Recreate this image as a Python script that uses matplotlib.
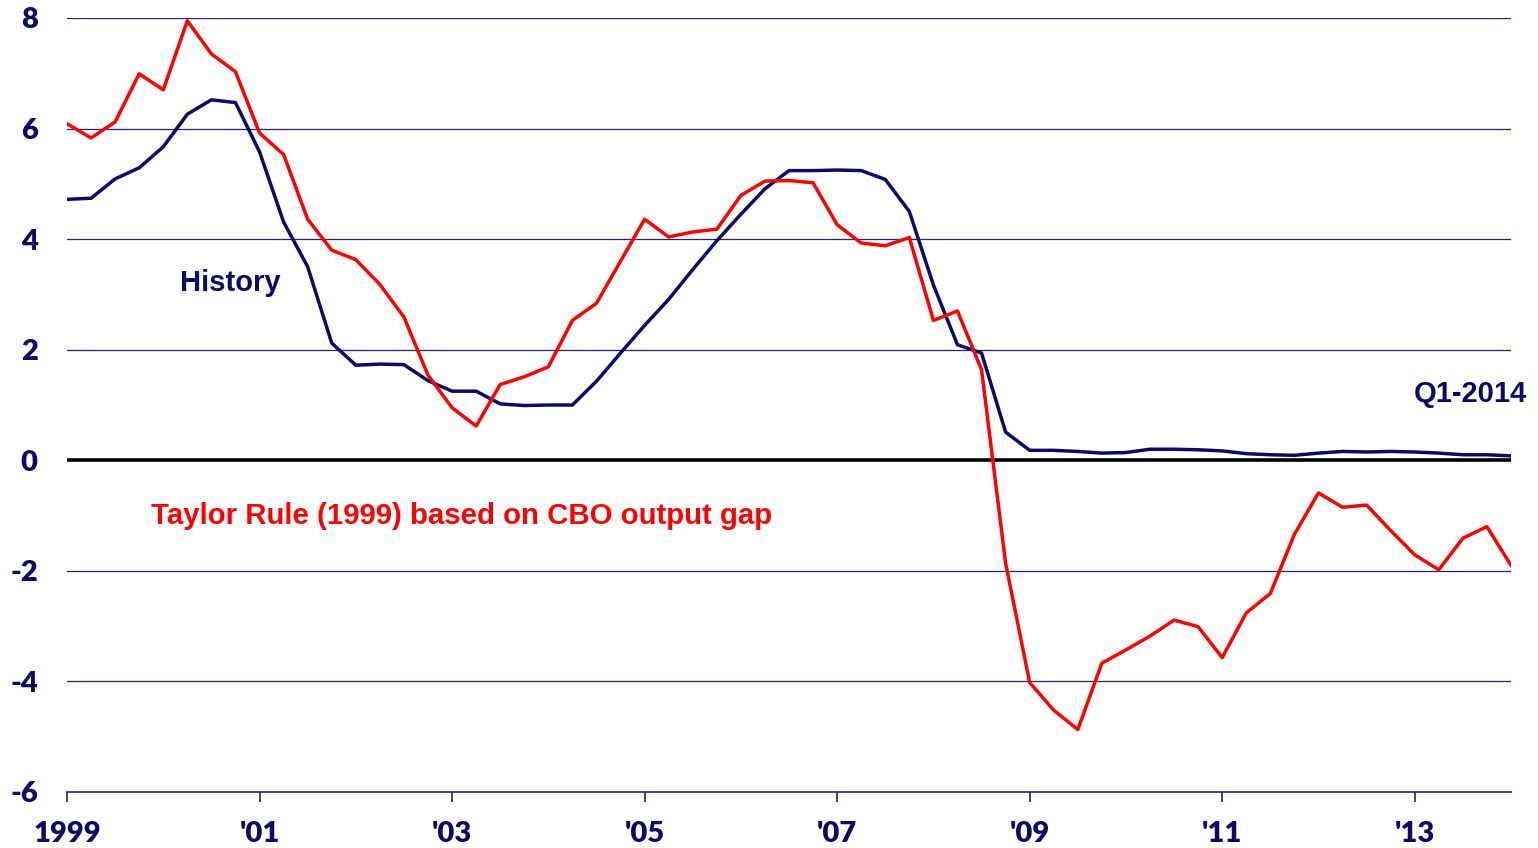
import numpy as np
import matplotlib
matplotlib.use('Agg')
import matplotlib.pyplot as plt

# quarterly, 1999Q1 .. 2014Q1
start_year = 1999
history = [4.72, 4.74, 5.09, 5.29, 5.67, 6.26, 6.52, 6.47, 5.58, 4.31,
           3.50, 2.12, 1.72, 1.74, 1.73, 1.44, 1.25, 1.25, 1.02, 0.99,
           1.00, 1.00, 1.43, 1.94, 2.44, 2.91, 3.45, 3.97, 4.45, 4.91,
           5.24, 5.24, 5.25, 5.24, 5.08, 4.50, 3.17, 2.09, 1.94, 0.51,
           0.18, 0.18, 0.16, 0.13, 0.14, 0.20, 0.20, 0.19, 0.17, 0.12,
           0.10, 0.09, 0.13, 0.16, 0.15, 0.16, 0.15, 0.13, 0.10, 0.10,
           0.08]
taylor = [6.09, 5.83, 6.12, 6.99, 6.70, 7.95, 7.35, 7.03, 5.92, 5.53,
          4.36, 3.80, 3.63, 3.18, 2.59, 1.54, 0.95, 0.62, 1.37, 1.51,
          1.69, 2.53, 2.84, 3.60, 4.36, 4.04, 4.13, 4.18, 4.79, 5.05,
          5.06, 5.02, 4.26, 3.93, 3.88, 4.03, 2.53, 2.70, 1.64, -1.86,
          -4.02, -4.52, -4.87, -3.67, -3.43, -3.18, -2.89, -3.01, -3.57, -2.76,
          -2.41, -1.34, -0.59, -0.85, -0.81, -1.27, -1.71, -1.98, -1.41, -1.20,
          -1.90]
xtick_years = [1999, 2001, 2003, 2005, 2007, 2009, 2011, 2013]
xtick_labels = ['1999', "'01", "'03", "'05", "'07", "'09", "'11", "'13"]
ytick_vals = [-6, -4, -2, 0, 2, 4, 6, 8]

navy = '#0b0b66'
red = '#ff0000'
label_font = ['Lato', 'DejaVu Sans']
text_font = ['Liberation Sans', 'DejaVu Sans']

x = start_year + np.arange(len(history)) / 4.0

fig = plt.figure(figsize=(15.38, 8.48), dpi=100)
ax = fig.add_axes([67/1538, 56/848, (1511-67)/1538, (792-18)/848])

for v in ytick_vals:
    if v == 0 or v == -6:
        continue
    ax.axhline(v, color='#23237a', linewidth=0.9, zorder=1)
ax.axhline(0, color='black', linewidth=2.6, zorder=2)

ax.plot(x, history, color=navy, linewidth=2.5, zorder=3)
ax.plot(x, taylor, color=red, linewidth=2.5, zorder=4)

ax.set_xlim(1999, 2014)
ax.set_ylim(-6, 8)

for s in ['top', 'right', 'left']:
    ax.spines[s].set_visible(False)
ax.spines['bottom'].set_color('#23237a')
ax.spines['bottom'].set_linewidth(1.2)

ax.set_xticks(xtick_years)
ax.set_xticklabels(xtick_labels)
ax.set_yticks(ytick_vals)
ax.set_yticklabels([str(v) for v in ytick_vals])
ax.tick_params(axis='x', direction='out', length=7, width=1.2, color='#23237a', pad=14)
ax.tick_params(axis='y', length=0, pad=21)
for lab in ax.get_xticklabels() + ax.get_yticklabels():
    lab.set_family(label_font)
    lab.set_fontweight('heavy')
    lab.set_fontsize(21)
    lab.set_color(navy)

ax.text(2000.17, 3.2, 'History', color=navy, fontsize=21, fontweight='bold',
        family=text_font, va='center', ha='left')
ax.text(1999.87, -1.01, 'Taylor Rule (1999) based on CBO output gap', color=red,
        fontsize=21.2, fontweight='bold', family=text_font, va='center', ha='left')
ax.text(2014.17, 1.19, 'Q1-2014', color=navy, fontsize=21, fontweight='bold',
        family=text_font, va='center', ha='right', clip_on=False)

fig.savefig('out.png', dpi=100)
